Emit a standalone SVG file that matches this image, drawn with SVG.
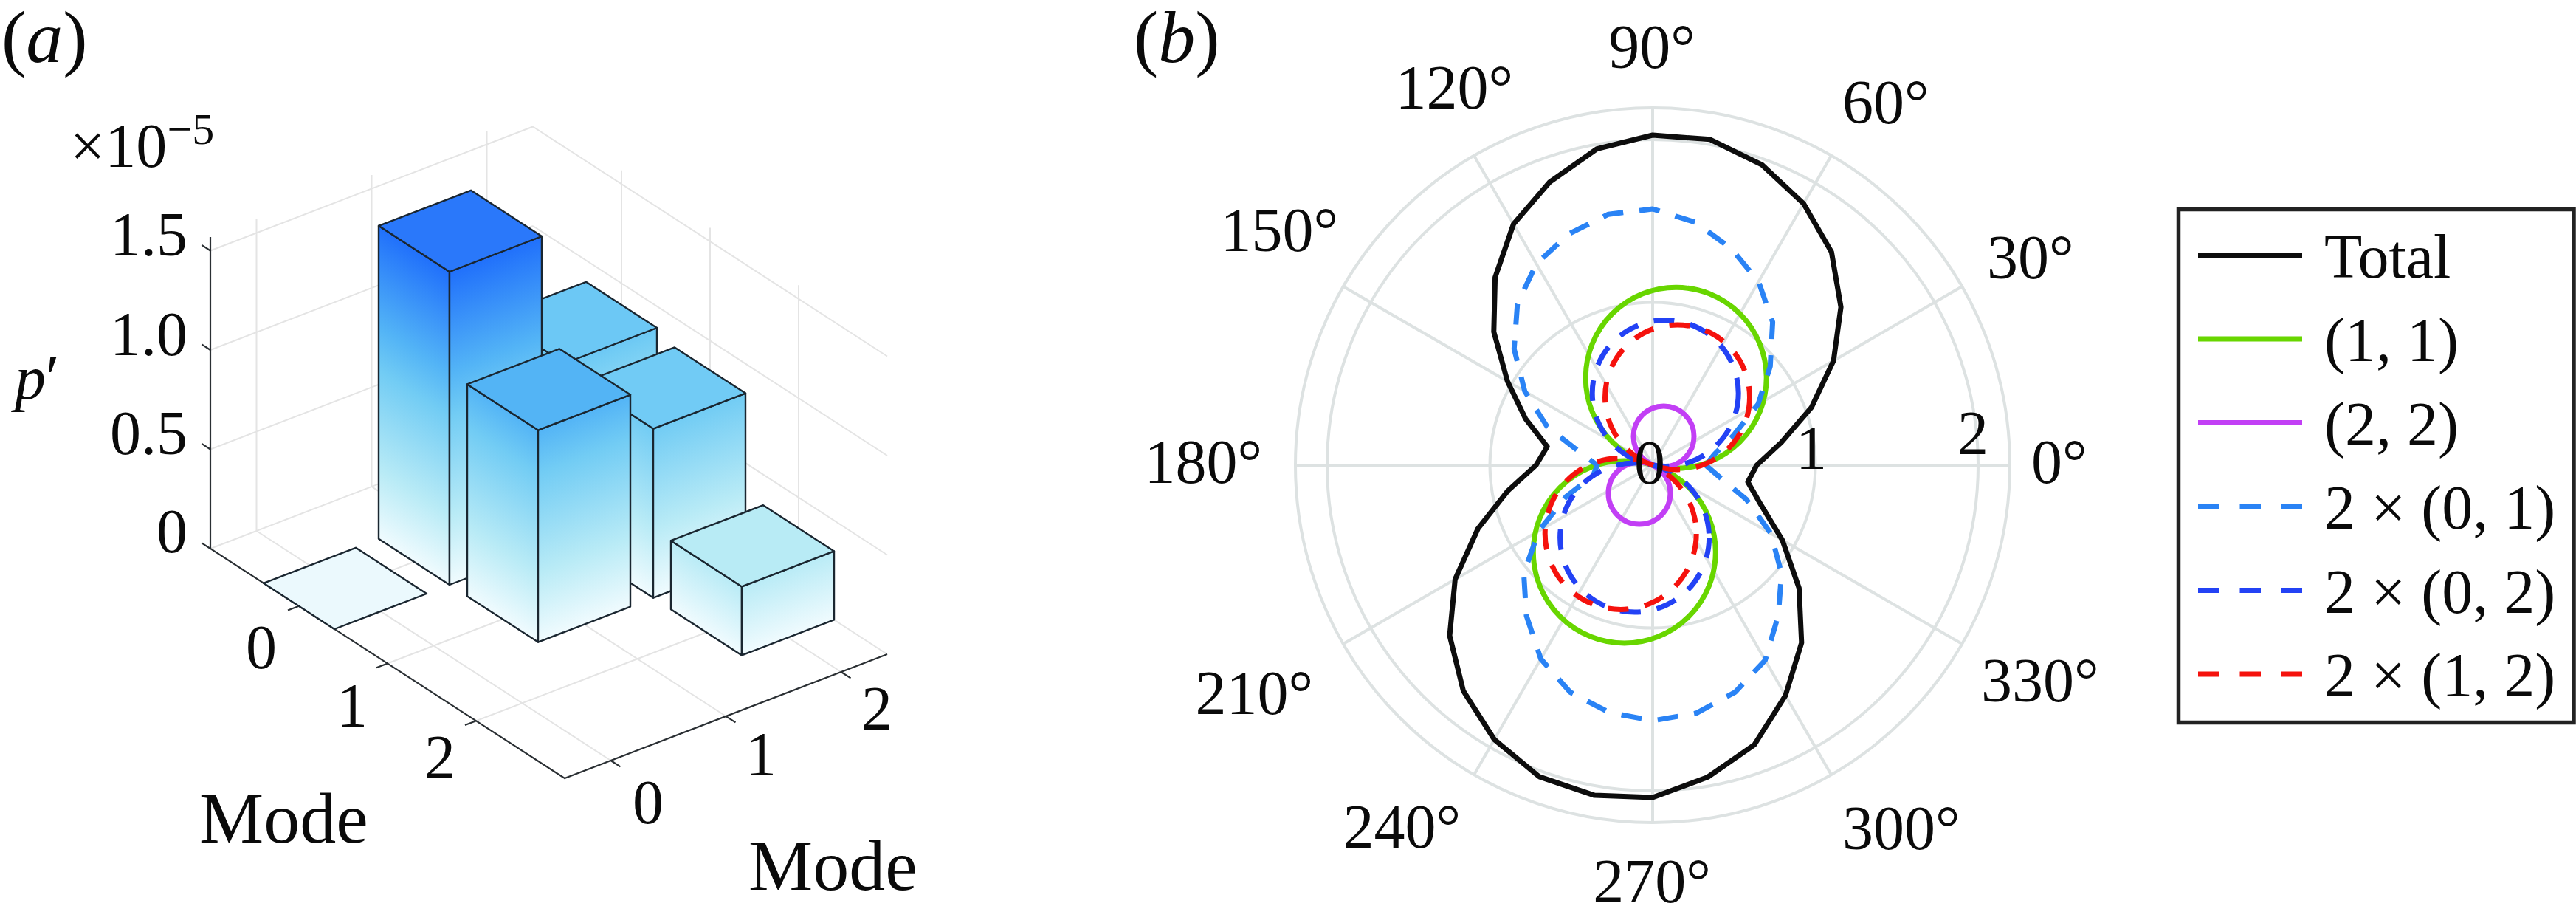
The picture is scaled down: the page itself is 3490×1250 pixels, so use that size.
<svg xmlns="http://www.w3.org/2000/svg" width="3490" height="1250" viewBox="0 0 3490 1250" font-family="'Liberation Serif', 'DejaVu Serif', 'Noto Serif', serif">
<style>
text{font-family:'Liberation Serif','DejaVu Serif','Noto Serif',serif;fill:#0a0a0a;font-size:84px}
.lab{font-size:100px}
.mode{font-size:98px}
.it{font-style:italic}
.grid3{stroke:#e4e4e4;stroke-width:2;fill:none}
.ax3{stroke:#2a2f33;stroke-width:2.2;fill:none}
.edge{stroke:#1a2630;stroke-width:2.4;stroke-linejoin:round}
.pg{stroke:#dde2e2;stroke-width:4;fill:none}
.cv{fill:none;stroke-width:7;stroke-linejoin:round}
.dash{stroke-dasharray:28 22}
</style>
<defs>
<linearGradient id="gL" gradientUnits="userSpaceOnUse" x1="0" y1="0" x2="192.5" y2="-297.2">
<stop offset="0" stop-color="#f0fbfe"/><stop offset="0.22" stop-color="#b9ebf6"/><stop offset="0.54" stop-color="#72ccf4"/><stop offset="0.68" stop-color="#53b4f6"/><stop offset="1" stop-color="#2171fb"/>
</linearGradient>
<linearGradient id="gR" gradientUnits="userSpaceOnUse" x1="0" y1="0" x2="-141.2" y2="-367.8">
<stop offset="0" stop-color="#f0fbfe"/><stop offset="0.22" stop-color="#b9ebf6"/><stop offset="0.54" stop-color="#72ccf4"/><stop offset="0.68" stop-color="#53b4f6"/><stop offset="1" stop-color="#2171fb"/>
</linearGradient>
</defs>
<rect width="3490" height="1250" fill="#fff"/>

<!-- Panel (a) -->
<g id="panel-a-labels">
<text class="lab" x="2" y="84">(<tspan class="it">a</tspan>)</text>
<text x="95" y="226">×10<tspan font-size="60" dy="-31">−5</tspan></text>
<text class="it" x="20" y="540" font-size="94">p<tspan font-style="normal">′</tspan></text>
</g>
<g id="grid-a">
<path class="grid3" d="M285,743L722,575M285,608.5L722,440.5M285,474L722,306M285,339.5L722,171.5M347.5,719V297M503.5,659V237M659.5,599V177"/>
<path class="grid3" d="M722,575L1202,886M722,440.5L1202,751.5M722,306L1202,617M722,171.5L1202,482.5M842,652.8V230.8M962,730.5V308.5M1082,808.3V386.3"/>
<path class="grid3" d="M347.5,719L827.5,1030M503.5,659L983.5,970M659.5,599L1139.5,910M405,820.8L842,652.8M525,898.5L962,730.5M645,976.3L1082,808.3"/>
</g>
<g id="axes-a">
<path class="ax3" d="M285,321V743L765,1054L1202,886"/>
<path class="ax3" d="M285,743l-11.7,-7.6M285,608.5l-11.7,-7.6M285,474l-11.7,-7.6M285,339.5l-11.7,-7.6"/>
<path class="ax3" d="M405,820.8l-15,5.7M525,898.5l-15,5.7M645,976.3l-15,5.7"/>
<path class="ax3" d="M827.5,1030l13,8.4M983.5,970l13,8.4M1139.5,910l13,8.4"/>
<g text-anchor="end">
<text x="254" y="346">1.5</text>
<text x="254" y="481">1.0</text>
<text x="254" y="615">0.5</text>
<text x="254" y="748">0</text>
</g>
<g text-anchor="middle">
<text x="354" y="905">0</text>
<text x="477" y="984">1</text>
<text x="596" y="1054">2</text>
<text x="878" y="1115">0</text>
<text x="1031" y="1050">1</text>
<text x="1188" y="988">2</text>
</g>
<text class="mode" x="270" y="1141">Mode</text>
<text class="mode" x="1014" y="1205">Mode</text>
</g>
<g id="bar-0-2" transform="translate(765,732)">
<polygon class="edge" fill="url(#gL)" points="-96,-62.2 0,0 0,-240 -96,-302.2"/>
<polygon class="edge" fill="url(#gR)" points="0,0 125,-48 125,-288 0,-240"/>
<polygon class="edge" fill="#6cc8f5" points="0,-240 -96,-302.2 29,-350.2 125,-288"/>
</g>
<g id="bar-0-1" transform="translate(609,792)">
<polygon class="edge" fill="url(#gL)" points="-96,-62.2 0,0 0,-424 -96,-486.2"/>
<polygon class="edge" fill="url(#gR)" points="0,0 125,-48 125,-472 0,-424"/>
<polygon class="edge" fill="#2a78fa" points="0,-424 -96,-486.2 29,-534.2 125,-472"/>
</g>
<g id="bar-1-2" transform="translate(885,809.6)">
<polygon class="edge" fill="url(#gL)" points="-96,-62.2 0,0 0,-229 -96,-291.2"/>
<polygon class="edge" fill="url(#gR)" points="0,0 125,-48 125,-277 0,-229"/>
<polygon class="edge" fill="#71cbf5" points="0,-229 -96,-291.2 29,-339.2 125,-277"/>
</g>
<g id="bar-0-0" transform="translate(453,852)">
<polygon class="edge" fill="#ebf9fd" points="0,0 -96,-62.2 29,-110.2 125,-48"/>
</g>
<g id="bar-1-1" transform="translate(729,869.6)">
<polygon class="edge" fill="url(#gL)" points="-96,-62.2 0,0 0,-287 -96,-349.2"/>
<polygon class="edge" fill="url(#gR)" points="0,0 125,-48 125,-335 0,-287"/>
<polygon class="edge" fill="#53b4f5" points="0,-287 -96,-349.2 29,-397.2 125,-335"/>
</g>
<g id="bar-2-2" transform="translate(1005,887.4)">
<polygon class="edge" fill="url(#gL)" points="-96,-62.2 0,0 0,-93 -96,-155.2"/>
<polygon class="edge" fill="url(#gR)" points="0,0 125,-48 125,-141 0,-93"/>
<polygon class="edge" fill="#b8ebf5" points="0,-93 -96,-155.2 29,-203.2 125,-141"/>
</g>

<!-- Panel (b) -->
<text id="label-b" class="lab" x="1536" y="84">(<tspan class="it">b</tspan>)</text>
<g id="polar-grid">
<circle class="pg" cx="2239" cy="630" r="220.5"/>
<circle class="pg" cx="2239" cy="630" r="441"/>
<circle class="pg" cx="2239" cy="630" r="484"/>
<path class="pg" d="M2723,630H1755M2658.2,388L1819.8,872M2481,210.8L1997,1049.2M2239,146V1114M1997,210.8L2481,1049.2M1819.8,388L2658.2,872"/>
</g>
<g id="polar-curves">
<polygon id="curve-total" class="cv" stroke="#0d0d0d" points="2380,630 2413.3,599.3 2454.2,551.7 2484.1,488.5 2494.1,415.9 2481.3,341.2 2443.5,275.8 2387.1,223.1 2316.8,188.8 2239,183 2163.5,201.6 2099.5,246.6 2050.5,303.5 2025.6,375.7 2023.8,449.4 2042.4,516.5 2067,567.4 2096.2,604.8 2081,630 2043,664.5 2002.2,716.2 1971.4,784.5 1964,860.8 1982.5,935.6 2024.5,1001.5 2085.4,1051.9 2160.2,1077.1 2239,1080 2313.5,1052.5 2376.8,1008.7 2419,941.8 2440.8,870.5 2437.4,796.5 2414.8,731.5 2385.6,683.4 2368,652.7"/>
<g id="curve-11" class="cv" stroke="#68d600" stroke-width="6">
<circle cx="2270.7" cy="511.7" r="122.5"/>
<circle cx="2200.8" cy="747.5" r="123.5"/>
</g>
<g id="curve-22" class="cv" stroke="#c23ff5" stroke-width="6">
<circle cx="2254" cy="591" r="41"/>
<circle cx="2221" cy="668" r="42"/>
</g>
<polygon id="curve-01" class="cv dash" stroke="#2a83f5" points="2311,630 2322.7,615.2 2348,590.3 2381.9,547.5 2398.3,496.3 2401.6,436.2 2382.5,381.5 2345.7,336.8 2297,301.1 2239,283 2179.1,290.2 2125.1,317.1 2081.5,357.2 2055.8,411.7 2051.3,472.5 2065.8,530 2096.2,578 2140.5,612.6 2164,630 2158.2,644.2 2121.5,672.8 2084.9,719 2064.4,776.6 2068,833.8 2087.5,892.4 2127.2,937.3 2180,964.8 2239,976 2298.2,965.8 2350.8,937.3 2391.5,894.1 2409.3,833 2413.6,776.6 2399.2,722.5 2365.9,676.2 2329.6,646"/>
<g id="curve-02" class="cv dash" stroke="#2342f5">
<circle cx="2256.2" cy="532.5" r="99"/>
<circle cx="2214.6" cy="728" r="101"/>
</g>
<g id="curve-12" class="cv dash" stroke="#f5120d">
<circle cx="2272.5" cy="537.9" r="98"/>
<circle cx="2195.7" cy="722.9" r="102.5"/>
</g>
</g>
<g id="polar-labels">
<text x="2752" y="654">0°</text>
<text x="2692" y="377">30°</text>
<text x="2496" y="167">60°</text>
<text x="2238" y="92" text-anchor="middle">90°</text>
<text x="2050" y="147" text-anchor="end">120°</text>
<text x="1813" y="340" text-anchor="end">150°</text>
<text x="1710" y="654" text-anchor="end">180°</text>
<text x="1779" y="967" text-anchor="end">210°</text>
<text x="1979" y="1148" text-anchor="end">240°</text>
<text x="2238" y="1222" text-anchor="middle">270°</text>
<text x="2496" y="1150">300°</text>
<text x="2684" y="950">330°</text>
<text x="2235" y="655" text-anchor="middle">0</text>
<text x="2454" y="635" text-anchor="middle">1</text>
<text x="2673" y="615" text-anchor="middle">2</text>
</g>
<g id="legend">
<rect x="2951.5" y="283.5" width="535.5" height="695" fill="#fff" stroke="#222" stroke-width="5.5"/>
<g stroke-width="7">
<line x1="2978" y1="345.5" x2="3119" y2="345.5" stroke="#0d0d0d"/>
<line x1="2978" y1="459" x2="3119" y2="459" stroke="#68d600"/>
<line x1="2978" y1="572.5" x2="3119" y2="572.5" stroke="#c23ff5"/>
<line x1="2978" y1="686" x2="3119" y2="686" stroke="#2a83f5" stroke-dasharray="28.5 28"/>
<line x1="2978" y1="799.5" x2="3119" y2="799.5" stroke="#2342f5" stroke-dasharray="28.5 28"/>
<line x1="2978" y1="913" x2="3119" y2="913" stroke="#f5120d" stroke-dasharray="28.5 28"/>
</g>
<text x="3149" y="375.5">Total</text>
<text x="3149" y="489">(1, 1)</text>
<text x="3149" y="602.5">(2, 2)</text>
<text x="3149" y="716">2 × (0, 1)</text>
<text x="3149" y="829.5">2 × (0, 2)</text>
<text x="3149" y="943">2 × (1, 2)</text>
</g>
</svg>
